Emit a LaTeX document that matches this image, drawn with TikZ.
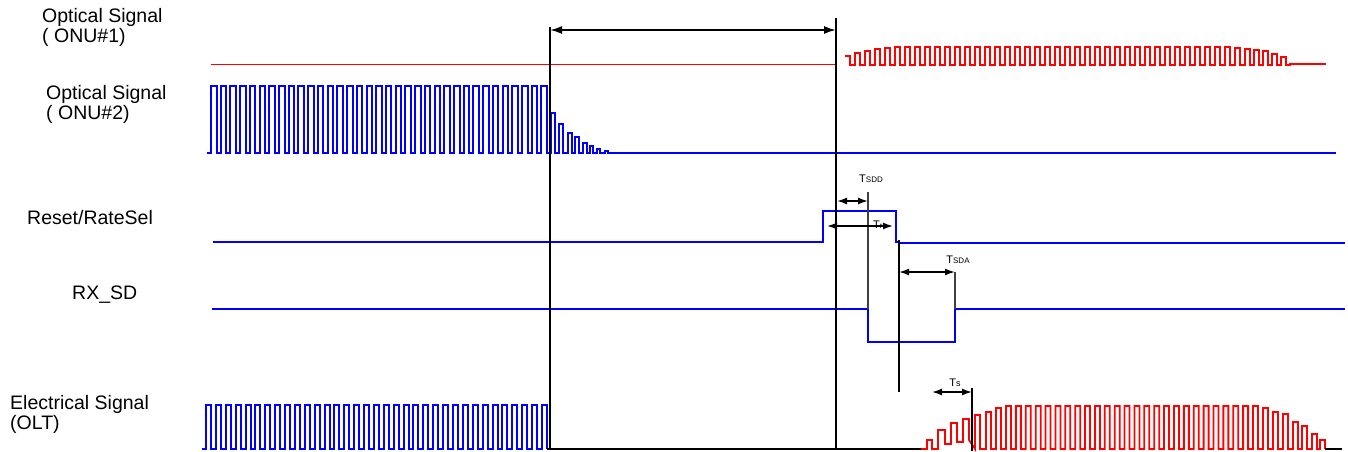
\documentclass[tikz,border=0pt]{standalone}
\usepackage{fontspec}
\setmainfont{Liberation Sans}
\usetikzlibrary{arrows.meta}
\begin{document}
\begin{tikzpicture}[x=1pt,y=-1pt,
  lbl/.style={font=\fontsize{19.5}{17}\selectfont, anchor=base west, inner sep=0pt, align=left},
  tlbl/.style={inner sep=0pt, anchor=base},
  bluew/.style={blue, line width=2pt},
  redw/.style={red, line width=1.8pt},
  blk/.style={black, line width=1.5pt},
  gry/.style={black!75, line width=1.5pt},
  dimbig/.style={black, line width=1.8pt, {Latex[length=12pt,width=8pt]}-{Latex[length=12pt,width=8pt]}},
  dimsm/.style={black, line width=1.6pt, {Latex[length=10pt,width=7pt]}-{Latex[length=10pt,width=7pt]}}
]
\useasboundingbox (0,0) rectangle (1348,451);

% ---- labels (base = baseline of last line)
\node[lbl] (l1) at (42,42) {Optical Signal\\( ONU\#1)};
\node[lbl] (l2) at (46,119) {Optical Signal\\( ONU\#2)};
\node[lbl] (l3) at (27,224) {Reset/RateSel};
\node[lbl] (l4) at (72,299) {RX\_SD};
\node[lbl] (l5) at (10,429) {Electrical Signal\\(OLT)};

% ---- ONU#1 optical (red)
\draw[red, line width=1pt] (211,64) -- (836,64);
\draw[redw] (845,56) -- (850,56) -- (850,65)
  \foreach \x/\h in {855/53,865/51,875/49,885/48}{ -- (\x,65) -- (\x,\h) -- ({\x+5},\h) -- ({\x+5},65)}
  \foreach \i in {0,...,33}{ -- ({895+10*\i},65) -- ({895+10*\i},47) -- ({900+10*\i},47) -- ({900+10*\i},65)}
  \foreach \x/\h in {1235/48,1245/49,1254/50,1263/51,1272/54,1281/57}{ -- (\x,65) -- (\x,\h) -- ({\x+5},\h) -- ({\x+5},65)}
  -- (1290,65) -- (1290,64) -- (1326,64);

% ---- ONU#2 optical (blue)
\draw[bluew] (207,153)
  \foreach \i in {0,...,34}{ -- ({211+9.72*\i},153) -- ({211+9.72*\i},86) -- ({216.5+9.72*\i},86) -- ({216.5+9.72*\i},153)}
  \foreach \x/\h/\w in {551/113/4,559.3/124/4,567.7/133/4,575/137/4,583.3/143/4,590/146/3,596.7/149/3,605/151/3}{ -- (\x,153) -- (\x,\h) -- ({\x+\w},\h) -- ({\x+\w},153)}
  -- (1336,153);

% ---- Reset/RateSel
\draw[bluew] (213,242) -- (823,242) -- (823,211) -- (896,211) -- (896,242) -- (899,242) -- (899,243) -- (1345,243);

% ---- RX_SD
\draw[bluew] (212,309) -- (868,309) -- (868,342) -- (955,342) -- (955,309) -- (1345,309);

% ---- Electrical OLT
\draw[bluew] (202,449)
  \foreach \i in {0,...,34}{ -- ({206+9.88*\i},449) -- ({206+9.88*\i},405) -- ({211+9.88*\i},405) -- ({211+9.88*\i},449)};
\draw[redw] (920,449)
  -- (927,449) -- (927,440) -- (932,440) -- (932,449)
  -- (938,449) -- (938,430) -- (945,430) -- (945,444)
  -- (951,444) -- (951,423) -- (957,423) -- (957,442)
  -- (963,442) -- (963,419) -- (969,419) -- (969,440)
  \foreach \x/\h in {975/415,986/412,996/408}{ -- (\x,449) -- (\x,\h) -- ({\x+5},\h) -- ({\x+5},449)}
  \foreach \i in {0,...,25}{ -- ({1006+9.88*\i},449) -- ({1006+9.88*\i},406) -- ({1011+9.88*\i},406) -- ({1011+9.88*\i},449)}
  \foreach \x/\h in {1263/408,1273/412,1283/414,1293/422,1302/426,1312/434,1320/440}{ -- (\x,449) -- (\x,\h) -- ({\x+5},\h) -- ({\x+5},449)};
\draw[blk] (547,449) -- (921,449);
\draw[blk] (1325,449) -- (1342,449);

% ---- marker lines
\coordinate (a1) at (550,30);
\coordinate (a2) at (836,30);
\draw[blk] (550,27) -- (550,449);
\draw[blk] (836,18) -- (836,449);
\draw[dimbig] (a1) -- (a2);

\draw[gry] (868,192) -- (868,309);
\draw[blk] (899,240) -- (899,392);
\draw[gry] (955,272) -- (955,309);
\draw[blk] (972,388) -- (972,451);

\coordinate (d1) at (837,201);
\coordinate (d2) at (868,201);
\coordinate (r1) at (827,226);
\coordinate (r2) at (893,226);
\coordinate (s1) at (899,272);
\coordinate (s2) at (955,272);
\coordinate (t1) at (932,392);
\coordinate (t2) at (972,392);
\draw[dimsm] (d1) -- (d2);
\draw[dimsm] (r1) -- (r2);
\draw[dimsm] (s1) -- (s2);
\draw[dimsm] (t1) -- (t2);

\node[tlbl] (tsdd) at (871,182) {{\fontsize{11}{11}\selectfont T}{\fontsize{8}{8}\selectfont SDD}};
\node[tlbl, anchor=base west] (tr) at (873,228) {{\fontsize{11}{11}\selectfont T}{\fontsize{8}{8}\selectfont r}};
\node[tlbl] (tsda) at (958,263) {{\fontsize{11}{11}\selectfont T}{\fontsize{8}{8}\selectfont SDA}};
\node[tlbl] (ts) at (955,386) {{\fontsize{11}{11}\selectfont T}{\fontsize{9}{9}\selectfont s}};
\end{tikzpicture}
\end{document}
